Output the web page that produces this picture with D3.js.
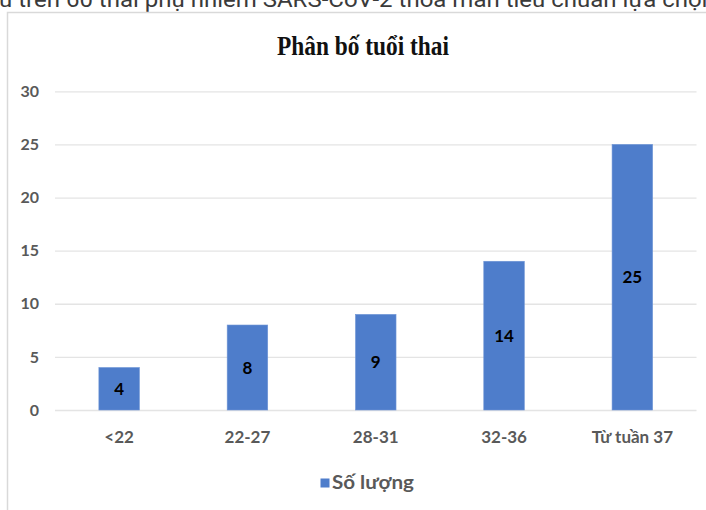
<!DOCTYPE html>
<html>
<head>
<meta charset="utf-8">
<script src="https://cdn.jsdelivr.net/npm/d3@7/dist/d3.min.js"></script>
<style>
  html, body { margin: 0; padding: 0; background: #fff; overflow: hidden; }
</style>
</head>
<body>
<script>
const categories = ["<22", "22-27", "28-31", "32-36", "Từ tuần 37"];
const values = [4, 8, 9, 14, 25];
const yTicks = [0, 5, 10, 15, 20, 25, 30];
const chartTitle = "Phân bố tuổi thai";
const seriesName = "Số lượng";
const captionText = "u trên 60 thai phụ nhiễm SARS-CoV-2 thỏa mãn tiêu chuẩn lựa chọn";

const W = 706, H = 510;
const barColor = "#4e7dcb";
const gridColor = "#e4e4e4";
const labelColor = "#595959";

const svg = d3.select("body").append("svg")
  .attr("width", W).attr("height", H)
  .style("display", "block");

svg.append("rect").attr("width", W).attr("height", H).attr("fill", "#fff");

// cropped caption text above the chart
svg.append("text")
  .attr("x", -1).attr("y", 7)
  .attr("font-family", "Roboto, 'Liberation Sans', sans-serif")
  .attr("font-size", 22)
  .attr("fill", "#3a3a3a")
  .attr("textLength", 716)
  .attr("lengthAdjust", "spacingAndGlyphs")
  .text(captionText);

// chart frame
svg.append("rect")
  .attr("x", 7.5).attr("y", 12.5)
  .attr("width", 900).attr("height", 700)
  .attr("fill", "#fff")
  .attr("stroke", "#d9d9d9").attr("stroke-width", 1.5);

// title
svg.append("text")
  .attr("x", 363).attr("y", 55)
  .attr("text-anchor", "middle")
  .attr("font-family", "'Liberation Serif', 'Times New Roman', serif")
  .attr("font-weight", "bold")
  .attr("font-size", 27)
  .attr("fill", "#111")
  .attr("textLength", 172)
  .attr("lengthAdjust", "spacingAndGlyphs")
  .text(chartTitle);

const x = d3.scaleBand()
  .domain(categories)
  .range([55, 696.5])
  .paddingInner(0.684)
  .paddingOuter(0.342);

const y = d3.scaleLinear().domain([0, 30]).range([410, 91.3]);

// y grid + labels
const yAxis = svg.append("g")
  .attr("transform", "translate(55,0)")
  .call(d3.axisLeft(y).tickValues(yTicks).tickSize(-(696.5 - 55)).tickPadding(16));
yAxis.select(".domain").remove();
yAxis.selectAll(".tick line").attr("stroke", gridColor).attr("stroke-width", 1.3);
yAxis.selectAll(".tick text")
  .attr("font-family", "Lato, 'Open Sans', sans-serif")
  .attr("font-weight", "bold")
  .attr("font-size", 16)
  .attr("fill", labelColor);

// x labels
const xAxis = svg.append("g")
  .attr("transform", "translate(0,410)")
  .call(d3.axisBottom(x).tickSize(0).tickPadding(21));
xAxis.select(".domain").remove();
xAxis.selectAll(".tick text")
  .attr("font-family", "Lato, 'Open Sans', sans-serif")
  .attr("font-weight", "bold")
  .attr("font-size", 17)
  .attr("fill", labelColor);

// bars
svg.append("g").selectAll("rect")
  .data(values)
  .join("rect")
  .attr("x", (d, i) => x(categories[i]))
  .attr("width", x.bandwidth())
  .attr("y", d => y(d))
  .attr("height", d => y(0) - y(d))
  .attr("fill", barColor)
  .attr("stroke", "#6f95d6")
  .attr("stroke-width", 0.6);

// data labels
svg.append("g").selectAll("text")
  .data(values)
  .join("text")
  .attr("x", (d, i) => x(categories[i]) + x.bandwidth() / 2)
  .attr("y", d => (y(d) + y(0)) / 2)
  .attr("dy", "0.36em")
  .attr("text-anchor", "middle")
  .attr("font-family", "Lato, 'Open Sans', sans-serif")
  .attr("font-weight", "bold")
  .attr("font-size", 17)
  .attr("fill", "#000")
  .text(d => d);

// legend
svg.append("rect")
  .attr("x", 320.5).attr("y", 478.5)
  .attr("width", 9).attr("height", 9)
  .attr("fill", barColor);
svg.append("text")
  .attr("x", 332).attr("y", 488.5)
  .attr("font-family", "Lato, 'Open Sans', sans-serif")
  .attr("font-weight", "bold")
  .attr("font-size", 19)
  .attr("fill", labelColor)
  .attr("textLength", 82)
  .attr("lengthAdjust", "spacingAndGlyphs")
  .text(seriesName);
</script>
</body>
</html>
